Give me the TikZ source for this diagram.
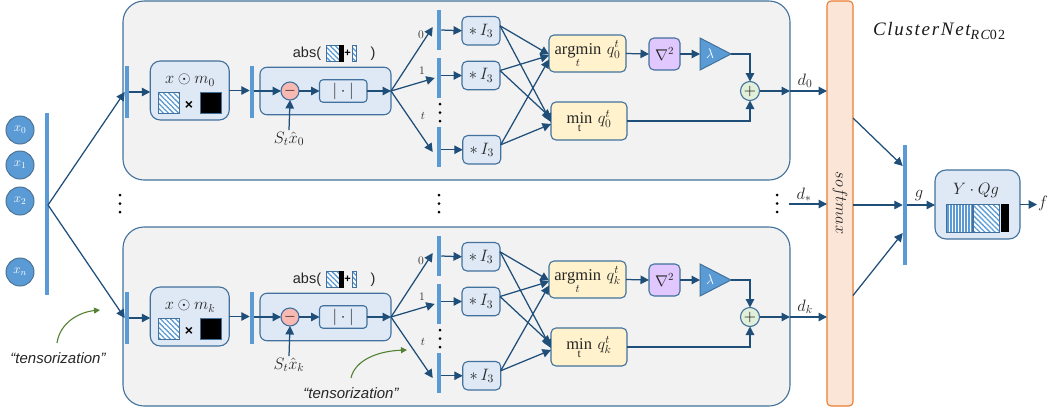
\documentclass[tikz,border=0pt]{standalone}
\usepackage{fix-cm}
\usepackage{fontspec}
\setmainfont{Liberation Serif}
\newfontfamily\sansf{Liberation Sans}
\newfontfamily\titlef[LetterSpace=9]{Liberation Serif}
\usetikzlibrary{arrows.meta,patterns.meta,calc}
\definecolor{arrowc}{HTML}{1F4E79}
\definecolor{edgec}{HTML}{41719C}
\definecolor{barc}{HTML}{5B9BD5}
\definecolor{lightb}{HTML}{DEE9F5}
\definecolor{blockf}{HTML}{F2F2F2}
\definecolor{yellowf}{HTML}{FFF2CC}
\definecolor{purplef}{HTML}{E0C8FF}
\definecolor{pinkf}{HTML}{F8B9B2}
\definecolor{greenf}{HTML}{E2F0D9}
\definecolor{softf}{HTML}{FBE5D6}
\definecolor{softe}{HTML}{ED7D31}
\definecolor{greenc}{HTML}{548235}
\tikzset{
 every node/.style={inner sep=0pt,outer sep=0pt},
 arr/.style={draw=arrowc,line width=1.25pt,-{Triangle[length=8.5pt,width=8.5pt]}},
 blockbox/.style={draw=edgec,line width=1.1pt,fill=blockf,rounded corners=21pt},
 bluebox/.style={draw=edgec,line width=1.1pt,fill=lightb,rounded corners=#1},
 bluebox/.default=6pt,
 yellowbox/.style={draw=edgec,line width=1.1pt,fill=yellowf,rounded corners=5pt},
 barnode/.style={fill=barc,minimum width=4.5pt},
 hatchd/.style={draw=edgec,line width=.7pt,preaction={fill=white},pattern={Lines[angle=-45,distance=3.6pt,line width=1.3pt]},pattern color=barc},
 hatchv/.style={draw=edgec,line width=.7pt,preaction={fill=white},pattern={Lines[angle=90,distance=3pt,line width=1.1pt]},pattern color=barc},
 blacknode/.style={fill=black,draw=edgec,line width=.7pt},
 dotnode/.style={circle,fill=black,minimum size=3pt},
 inputnode/.style={circle,draw=edgec!80!gray,line width=1pt,fill=barc,minimum size=28pt,text=white,font=\fontsize{13}{15}\selectfont},
 mathl/.style={font=\fontsize{16.5}{19}\selectfont,text=black!85},
 midl/.style={font=\fontsize{15.5}{18}\selectfont,text=black!85},
 smalll/.style={font=\fontsize{11.5}{13}\selectfont,text=black!80},
 sansl/.style={font=\sansf\fontsize{14.5}{16}\selectfont,text=black!85},
 tenl/.style={font=\sansf\itshape\fontsize{15}{17}\selectfont,text=black!85},
 curve/.style={draw=greenc,line width=1.1pt,-{Triangle[length=6pt,width=6pt]}},
}
\newcommand{\threedots}[3]{%
 \node[dotnode] (#1a) at (#2,#3-8.5) {};
 \node[dotnode] (#1b) at (#2,#3) {};
 \node[dotnode] (#1c) at (#2,#3+8.5) {};}
\newcommand{\branch}[3]{%
\begin{scope}[shift={(0,#2)}]
 \node[blockbox,minimum width=667pt,minimum height=179pt] (blk#1) at (456.5,90.5) {};
 \node[barnode,minimum height=52pt] (inb#1) at (127,92) {};
 \node[bluebox=10pt,minimum width=79pt,minimum height=59pt] (mask#1) at (189.75,90.5) {};
 \node[mathl] (masktxt#1) at (190,80) {$x\odot m_{#3}$};
 \node[hatchd,minimum size=21pt] (maskh#1) at (168.5,102.5) {};
 \node[font=\sansf\bfseries\fontsize{14}{16}\selectfont] (masktimes#1) at (189,105) {×};
 \node[blacknode,minimum size=21pt] (maskb#1) at (210.5,102.5) {};
 \node[barnode,minimum height=52pt] (bar#1) at (252,92) {};
 \node[bluebox=7pt,minimum width=131pt,minimum height=47.5pt] (abs#1) at (325.5,91) {};
 \node[circle,draw=edgec,line width=1.1pt,fill=pinkf,minimum size=18pt,font=\fontsize{15}{17}\selectfont] (minus#1) at (290,91) {$-$};
 \node[bluebox=3.5pt,minimum width=47.5pt,minimum height=22.5pt,mathl] (mod#1) at (343.25,91) {$|\cdot|$};
 \node[mathl] (st#1) at (289,139) {$S_t\hat{x}_{#3}$};
 \node[sansl] (absl#1) at (307,54) {abs(};
 \node[hatchd,minimum width=13pt,minimum height=16.5pt] (absh#1) at (332.5,53.5) {};
 \node[fill=black,minimum width=5pt,minimum height=16.5pt] (absb#1) at (341.5,53.5) {};
 \node[font=\sansf\bfseries\fontsize{11}{13}\selectfont] (absp#1) at (347.5,53.5) {+};
 \node[hatchd,minimum width=4pt,minimum height=16.5pt] (abss#1) at (354,53.5) {};
 \node[sansl] (absr#1) at (373,54) {)};
 \node[barnode,minimum height=40pt] (ba#1) at (439,30) {};
 \node[barnode,minimum height=40pt] (bb#1) at (439,78) {};
 \node[barnode,minimum height=40pt] (bc#1) at (439,147) {};
 \threedots{fd#1}{440}{112.5}
 \node[smalll] (l0#1) at (421,35) {$0$};
 \node[smalll] (l1#1) at (422,71) {$1$};
 \node[smalll] (lt#1) at (423,116) {$t$};
 \node[bluebox=5pt,minimum width=38pt,minimum height=28.5pt,mathl] (ia#1) at (481,30.75) {$*\,I_3$};
 \node[bluebox=5pt,minimum width=38pt,minimum height=28.5pt,mathl] (ib#1) at (481,75.5) {$*\,I_3$};
 \node[bluebox=5pt,minimum width=38pt,minimum height=28.5pt,mathl] (ic#1) at (481.75,149.75) {$*\,I_3$};
 \node[yellowbox,minimum width=77pt,minimum height=37pt] (arg#1) at (587.5,53.5) {};
 \node[mathl] (argt#1) at (587.5,54) {$\displaystyle\mathop{\mathrm{argmin}}\limits_{t}\,q_{#3}^{t}$};
 \node[yellowbox,minimum width=76pt,minimum height=38pt] (min#1) at (589,121) {};
 \node[mathl] (mint#1) at (589,121.5) {$\displaystyle\mathop{\mathrm{min}}\limits_{\mathrm{t}}\,q_{#3}^{t}$};
 \node[draw=edgec,line width=1.1pt,fill=purplef,rounded corners=5pt,minimum width=31pt,minimum height=32pt,midl] (nab#1) at (664.5,54) {$\nabla^2$};
 \draw[draw=edgec,line width=1pt,fill=barc] (700,38) -- (731,54) -- (700,70) -- cycle;
 \coordinate (lamw#1) at (700,54);
 \coordinate (lame#1) at (731,54);
 \node[font=\fontsize{14}{16}\selectfont,text=white] (lam#1) at (710,54) {$\lambda$};
 \node[circle,draw=edgec,line width=1.1pt,fill=greenf,minimum size=19pt,font=\fontsize{16}{18}\selectfont] (plus#1) at (750,91) {$+$};
 \path[arr] (inb#1.east) -- (inb#1.east -| mask#1.west);
 \path[arr] (mask#1.east) -- (bar#1.west |- mask#1.east);
 \path[arr] (bar#1.east |- minus#1) -- (minus#1.west);
 \path[arr] (minus#1.east) -- (mod#1.west);
 \path[arr] (mod#1.east) -- (abs#1.east);
 \path[arr] ([yshift=2pt]st#1.north) -- (minus#1.south);
 \path[arr] (abs#1.east) -- ([xshift=-4pt,yshift=3pt]ba#1.west);
 \path[arr] (abs#1.east) -- ([xshift=-2pt]bb#1.west);
 \path[arr] (abs#1.east) -- ([xshift=-4pt,yshift=-5pt]bc#1.west);
 \path[arr] (ba#1.east) -- (ia#1.west);
 \path[arr] (bb#1.east |- ib#1.west) -- (ib#1.west);
 \path[arr] (bc#1.east |- ic#1.west) -- (ic#1.west);
 \path[arr] ([yshift=5pt]ia#1.east) -- ([yshift=-1pt]arg#1.west);
 \path[arr] ([yshift=5pt]ia#1.east) -- ([yshift=-1pt]min#1.west);
 \path[arr] ([yshift=5pt]ib#1.east) -- ([yshift=-2pt]arg#1.west);
 \path[arr] ([yshift=5pt]ib#1.east) -- ([yshift=3pt]min#1.west);
 \path[arr] ([yshift=5pt]ic#1.east) -- ([yshift=-6pt]arg#1.west);
 \path[arr] ([yshift=5pt]ic#1.east) -- ([yshift=-3pt]min#1.west);
 \path[arr] (arg#1.east) -- (nab#1.west);
 \path[arr] (nab#1.east) -- (lamw#1);
 \path[arr] (lame#1) -| (plus#1.north);
 \path[arr] (min#1.east) -| (plus#1.south);
 \path[arr] (plus#1.east) -- (blk#1.east |- plus#1);
 \path[arr] (blk#1.east |- plus#1) -- (soft.west |- plus#1);
\end{scope}}
\begin{document}
\begin{tikzpicture}[x=1pt,y=-1pt]
\useasboundingbox (0,0) rectangle (1047,408);
\node[draw=softe,line width=1.1pt,fill=softf,rounded corners=4pt,minimum width=26pt,minimum height=405pt] (soft) at (840,203.5) {};
\node[mathl,rotate=-90] (softt) at (840,203) {$softmax$};
\branch{A}{0}{0}
\branch{B}{226}{k}
% inputs
\node[inputnode] (x0) at (20,130) {$x_0$};
\node[inputnode] (x1) at (20,165) {$x_1$};
\node[inputnode] (x2) at (20,201) {$x_2$};
\node[inputnode] (xn) at (20,272) {$x_n$};
\node[barnode,minimum height=182pt] (inbar) at (47,204) {};
\coordinate (inout) at (48,205);
\path[arr] (inout) -- (inbA.west);
\path[arr] (inout) -- (inbB.west);
% dots
\threedots{da}{120}{203.5}
\threedots{db}{439}{203.5}
\threedots{dc}{777}{203.5}
% d labels
\node[mathl] (d0) at (805,81) {$d_0$};
\node[mathl] (dk) at (805,307) {$d_k$};
\node[mathl] (ds) at (804,195) {$d_*$};
\coordinate (dsstart) at (789,204);
\path[arr] (dsstart) -- (soft.west |- dsstart);
% g
\node[barnode,minimum height=120pt] (gbar) at (905,205) {};
\path[arr] ([yshift=85.5pt]soft.east) -- ([yshift=39pt]gbar.west);
\path[arr] (soft.east |- gbar.west) -- (gbar.west);
\path[arr] ([yshift=-92pt]soft.east) -- ([yshift=-28pt]gbar.west);
\node[bluebox=11pt,minimum width=85pt,minimum height=69pt] (ybox) at (977.5,204.5) {};
\path[arr] (gbar.east) -- (ybox.west |- gbar.east);
\node[mathl] (g) at (919,196) {$g$};
\node[mathl] (yq) at (976,190) {$Y\cdot Qg$};
\node[hatchv,minimum width=26pt,minimum height=28pt] (yh1) at (959,218) {};
\node[hatchd,minimum width=26pt,minimum height=28pt] (yh2) at (986,218) {};
\node[fill=black,minimum width=8.5pt,minimum height=28pt] (yh3) at (1005,218) {};
\coordinate (fend) at (1037,204.5);
\path[arr] (ybox.east) -- (fend);
\node[mathl] (f) at (1043,203) {$f$};
% title
\node[anchor=west,font=\fontsize{19}{22}\selectfont,text=black!90] (title) at (873,31) {{\titlef\itshape ClusterNet}\raisebox{-4pt}{\fontsize{14}{16}\selectfont{\titlef\itshape RC}{\titlef 02}}};
% tensorization
\node[tenl] (ten1) at (58,358) {“tensorization”};
\coordinate (c1a) at (57,343);
\coordinate (c1b) at (100,310);
\path[curve] (c1a) .. controls (60,322) and (80,312) .. (c1b);
\node[tenl] (ten2) at (351,393) {“tensorization”};
\coordinate (c2a) at (351,378);
\coordinate (c2b) at (407,350);
\path[curve] (c2a) .. controls (355,360) and (378,351) .. (c2b);
\end{tikzpicture}
\end{document}
